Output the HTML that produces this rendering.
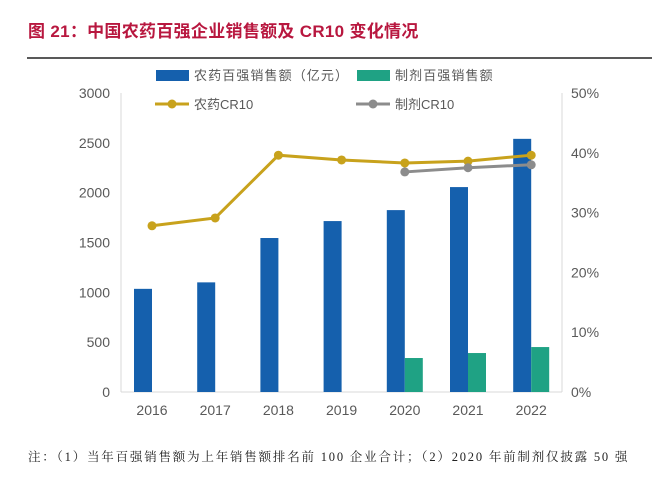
<!DOCTYPE html>
<html><head><meta charset="utf-8">
<style>
body{margin:0;background:#fff;width:652px;height:478px;overflow:hidden;font-family:"Liberation Sans","Noto Sans CJK SC",sans-serif;}
</style></head>
<body>
<svg width="652" height="478" xmlns="http://www.w3.org/2000/svg" id="svg">
<text x="28" y="37" fill="#b8173f" font-size="17" font-weight="bold" letter-spacing="0.3" font-family="Liberation Sans,Noto Sans CJK SC,sans-serif">图 21：中国农药百强企业销售额及 CR10 变化情况</text>
<line x1="27" y1="58" x2="652" y2="58" stroke="#222" stroke-width="1.5"/>
<g font-size="13" fill="#595959">
<rect x="156" y="70" width="33" height="11" fill="#1560ad"/>
<text x="194" y="80" letter-spacing="1.1">农药百强销售额（亿元）</text>
<rect x="357" y="70" width="33" height="11" fill="#1fa284"/>
<text x="395" y="80" letter-spacing="1.1">制剂百强销售额</text>
<line x1="155" y1="104" x2="189" y2="104" stroke="#c8a21c" stroke-width="3"/><circle cx="172" cy="104" r="4.5" fill="#c8a21c"/>
<text x="194" y="109">农药CR10</text>
<line x1="356" y1="104" x2="390" y2="104" stroke="#8c8c8c" stroke-width="3"/><circle cx="373" cy="104" r="4.5" fill="#8c8c8c"/>
<text x="395" y="109">制剂CR10</text>
</g>
<line x1="121" y1="93" x2="121" y2="392" stroke="#d9d9d9"/>
<line x1="562" y1="93" x2="562" y2="392" stroke="#d9d9d9"/>
<line x1="121" y1="392" x2="562" y2="392" stroke="#d9d9d9"/>
<g id="plot"></g>
<text x="28" y="461" font-size="12.5" fill="#222" letter-spacing="1.8" font-family="Liberation Serif,Noto Serif CJK SC,serif">注：（1）当年百强销售额为上年销售额排名前 100 企业合计；（2）2020 年前制剂仅披露 50 强</text>
</svg>
<script>
const years=["2016","2017","2018","2019","2020","2021","2022"];
const pesticideSales=[1035,1100,1545,1715,1825,2056,2540];
const formulationSales=[null,null,null,null,341,391,451];
const pesticideCR10=[27.8,29.1,39.6,38.8,38.3,38.6,39.6];
const formulationCR10=[null,null,null,null,36.8,37.5,38.0];
const leftTicks=[0,500,1000,1500,2000,2500,3000];
const rightTicks=[0,10,20,30,40,50];
const NS="http://www.w3.org/2000/svg";
const g=document.getElementById('plot');
const y0=392,y1=93;
const yL=v=>y0-(v/3000)*(y0-y1);
const yR=v=>y0-(v/50)*(y0-y1);
const xC=i=>152+i*63.2;
function mk(t,a){const e=document.createElementNS(NS,t);for(const k in a)e.setAttribute(k,a[k]);g.appendChild(e);return e;}
leftTicks.forEach(v=>{const t=mk('text',{x:110,y:yL(v)+5,'text-anchor':'end','font-size':14,fill:'#595959'});t.textContent=v;

});
rightTicks.forEach(v=>{const t=mk('text',{x:571,y:yR(v)+5,'font-size':14,fill:'#595959'});t.textContent=v+'%';

});
years.forEach((yr,i)=>{const t=mk('text',{x:xC(i),y:415,'text-anchor':'middle','font-size':14,fill:'#595959'});t.textContent=yr;


const b=mk('rect',{x:xC(i)-18,y:yL(pesticideSales[i]),width:18,height:y0-yL(pesticideSales[i]),fill:'#1560ad'});


if(formulationSales[i]!=null){const c=mk('rect',{x:xC(i),y:yL(formulationSales[i]),width:18,height:y0-yL(formulationSales[i]),fill:'#1fa284'});

}
});
function line(arr,color,name){const pts=[];arr.forEach((v,i)=>{if(v!=null)pts.push([xC(i),yR(v)]);});
const p=mk('polyline',{points:pts.map(p=>p.join(',')).join(' '),fill:'none',stroke:color,'stroke-width':3});


pts.forEach(q=>{const c=mk('circle',{cx:q[0],cy:q[1],r:4.5,fill:color});

});}
line(pesticideCR10,'#c8a21c','pesticide-cr10');
line(formulationCR10,'#8c8c8c','formulation-cr10');
</script>
</body></html>
